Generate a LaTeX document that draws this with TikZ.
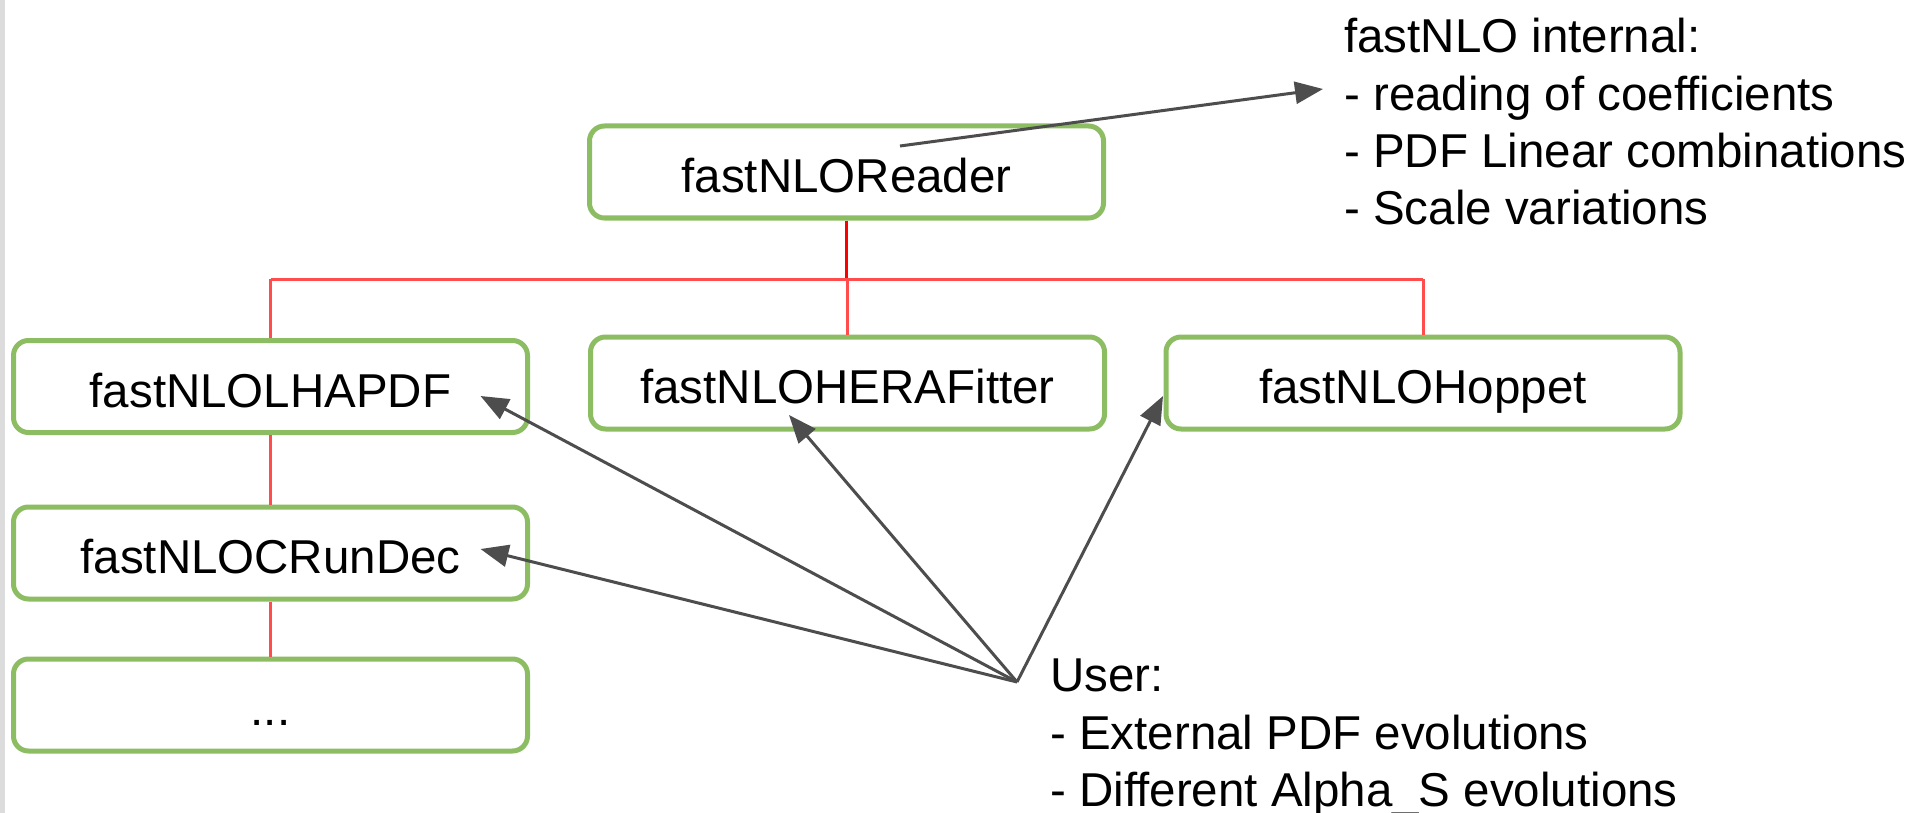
\documentclass[tikz,border=0pt]{standalone}
\usepackage{fontspec}
\setmainfont{Liberation Sans}
\usetikzlibrary{arrows.meta,calc}
\definecolor{boxgreen}{RGB}{141,189,98}
\definecolor{linkred}{RGB}{255,77,77}
\definecolor{stemred}{RGB}{255,0,0}
\definecolor{arrowgray}{RGB}{77,77,77}
\definecolor{stripgray}{RGB}{220,220,220}
\begin{document}
\begin{tikzpicture}[x=1pt,y=-1pt,
  box/.style={draw=boxgreen,line width=5pt,rounded corners=15pt,minimum width=514pt,minimum height=92pt,inner sep=0pt,text height=41pt,text depth=0pt,font=\fontsize{47.5}{57}\selectfont},
  txt/.style={align=left,inner sep=0pt,font=\fontsize{47.5}{57.4}\selectfont},
  link/.style={draw=linkred,line width=3pt},
  stem/.style={draw=stemred,line width=3.5pt},
  arr/.style={draw=arrowgray,line width=3pt,-{Triangle[length=28pt,width=22pt]}}]
\useasboundingbox[fill=white] (0,0) rectangle (1916,813);
\fill[stripgray] (0,0) rectangle (5,813);

\node[box] (reader) at (846.5,172) {fastNLOReader};
\node[box] (lhapdf) at (270.5,386.5) {fastNLOLHAPDF};
\node[box] (hera) at (847.5,383) {fastNLOHERAFitter};
\node[box] (hoppet) at (1423,383) {fastNLOHoppet};
\node[box] (crundec) at (270.5,553) {fastNLOCRunDec};
\node[box] (dots) at (270.5,705) {...};

\node[txt,anchor=north west] (internal) at (1344,18) {fastNLO internal:\\- reading of coefficients\\- PDF Linear combinations\\- Scale variations};
\node[txt,anchor=north west] (user) at (1050,659) {User:\\- External PDF evolutions\\- Different Alpha\_S evolutions};

\coordinate (junction) at (846.5,279);
\coordinate (userpt) at (1017,682);
\coordinate (inttip) at (1323,89);

% tree links
\draw[stem] (reader.south) -- (junction);
\draw[link] (lhapdf.north |- junction) -- (hoppet.north |- junction);
\draw[link] (lhapdf.north |- junction) -- (lhapdf.north);
\draw[link] (hera.north |- junction) -- (hera.north);
\draw[link] (hoppet.north |- junction) -- (hoppet.north);
\draw[link] (lhapdf.south) -- (crundec.north);
\draw[link] (crundec.south) -- (dots.north);

% arrows
\draw[arr] ($(reader.center)+(53.5,-26)$) -- (inttip);
\draw[arr] (userpt) -- ($(lhapdf.center)+(210,9.5)$);
\draw[arr] (userpt) -- ($(crundec.center)+(210,-4)$);
\draw[arr] (userpt) -- ($(hera.center)+(-58.5,32)$);
\draw[arr] (userpt) -- ($(hoppet.center)+(-260,13)$);
\end{tikzpicture}
\end{document}
